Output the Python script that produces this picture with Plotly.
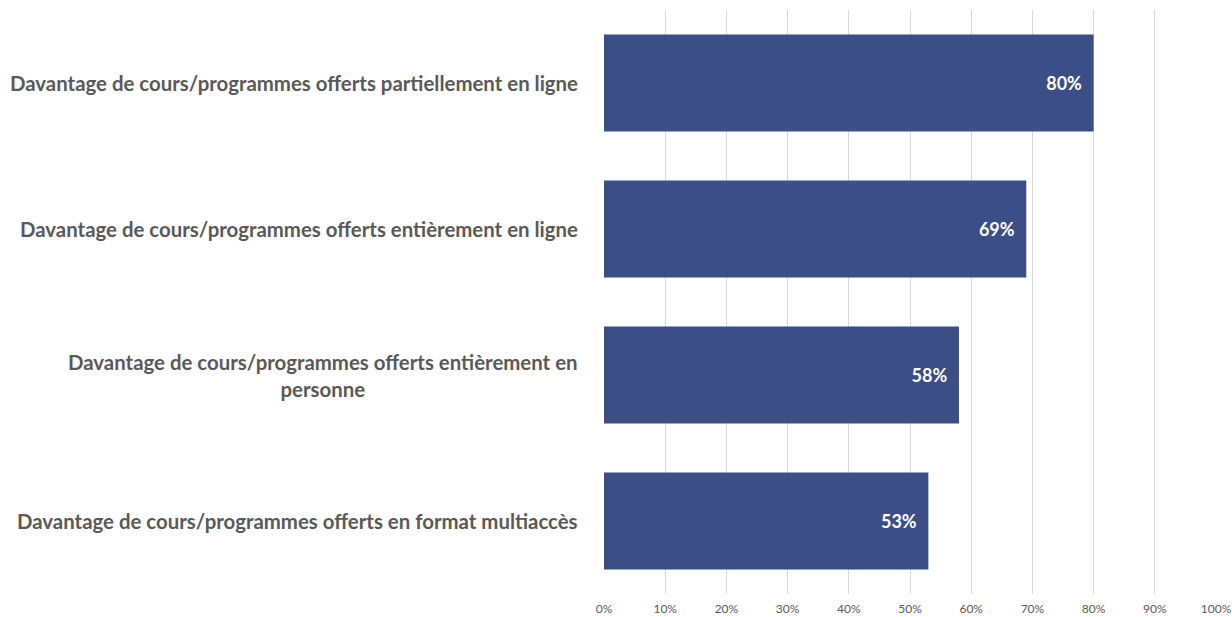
import plotly.graph_objects as go

categories = [
    "Davantage de cours/programmes offerts partiellement en ligne",
    "Davantage de cours/programmes offerts entièrement en ligne",
    "Davantage de cours/programmes offerts entièrement en<br>personne",
    "Davantage de cours/programmes offerts en format multiaccès",
]
values = [80, 69, 58, 53]
tick_vals = [0, 10, 20, 30, 40, 50, 60, 70, 80, 90, 100]
tick_text = [f"{v}%" for v in tick_vals]

BAR_COLOR = "#3B4E85"
TEXT_GRAY = "#595959"
FONT = "Lato"
NBSP = "\u00a0"

fig = go.Figure(
    go.Bar(
        x=values,
        y=categories,
        orientation="h",
        marker=dict(color=BAR_COLOR, line=dict(width=0)),
        # two non-breaking spaces keep the value clear of the bar end
        text=[f"{v}%{NBSP * 2}" for v in values],
        textposition="inside",
        insidetextanchor="end",
        textfont=dict(family=FONT, size=18, color="white", weight="bold"),
        hoverinfo="skip",
    )
)

# category labels as annotations so wrapped lines are centred
for cat in categories:
    fig.add_annotation(
        x=0, xref="paper", y=cat, yref="y",
        text=cat, showarrow=False,
        xanchor="right", xshift=-24, align="center",
        font=dict(family=FONT, size=20.4, color=TEXT_GRAY, weight="bold"),
    )

fig.update_layout(
    width=1232, height=617,
    margin=dict(l=604, r=16, t=10, b=23, autoexpand=False),
    paper_bgcolor="white", plot_bgcolor="white",
    bargap=0.336,
    showlegend=False,
    font=dict(family=FONT, color=TEXT_GRAY),
)
fig.update_xaxes(
    range=[0, 100], tickvals=tick_vals, ticktext=tick_text,
    showgrid=True, gridcolor="#D9D9D9", gridwidth=1,
    zeroline=False, showline=False, automargin=False,
    tickfont=dict(family=FONT, size=12, color=TEXT_GRAY),
    ticklabelstandoff=6,
)
fig.update_yaxes(
    categoryorder="array", categoryarray=categories[::-1],
    showticklabels=False, showgrid=False, zeroline=False, showline=False,
    automargin=False,
)

fig.write_html("out.html")
